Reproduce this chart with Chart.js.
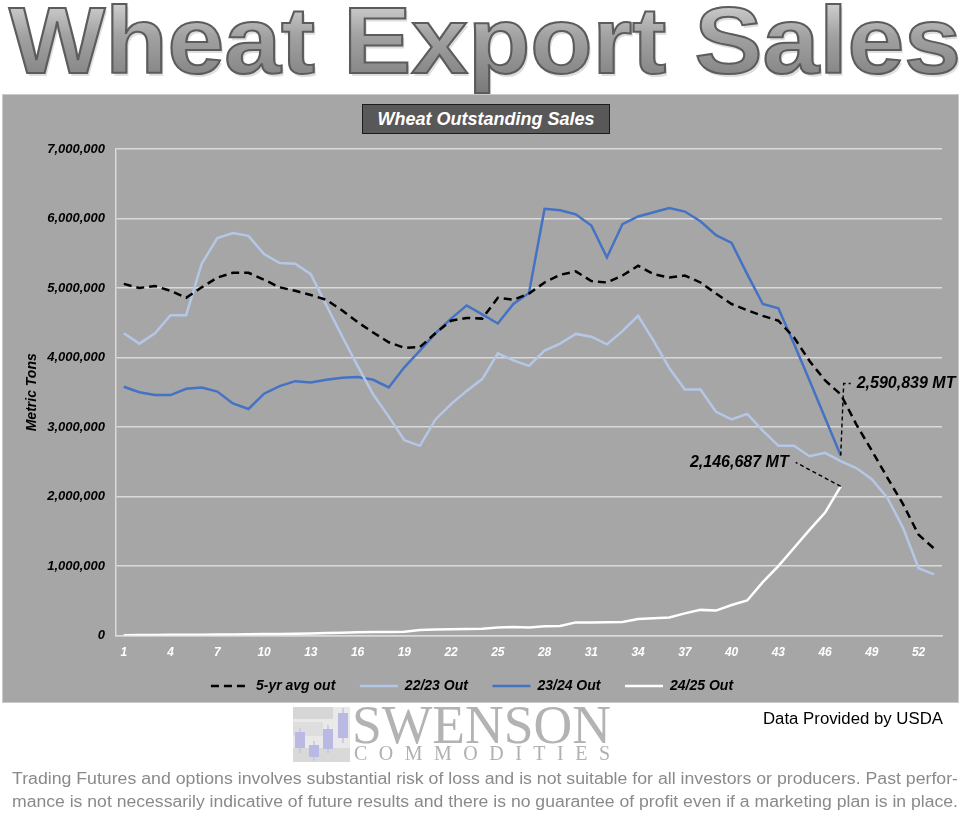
<!DOCTYPE html>
<html>
<head>
<meta charset="utf-8">
<title>Wheat Export Sales</title>
<script src="https://cdn.jsdelivr.net/npm/chart.js@4.4.1/dist/chart.umd.min.js"></script>
<style>
  body { margin: 0; width: 972px; height: 836px; background: #fff; position: relative; overflow: hidden; font-family: 'Liberation Sans', Arial, sans-serif; }
  #banner { position: absolute; left: 0; top: 0; }
  #panel { position: absolute; left: 2px; top: 94px; width: 957px; height: 609px; background: #a6a6a6; box-shadow: inset 0 0 0 1px #cacaca; }
  #panel canvas { position: absolute; left: 0; top: 0; }
  #chartTitle { position: absolute; left: 360px; top: 10px; width: 246px; height: 28px; background: #585858; border: 1px solid #1c1c1c;
    color: #fff; font: italic bold 18px 'Liberation Sans', Arial, sans-serif; line-height: 28px; text-align: center; }
  #footer { position: absolute; left: 0; top: 700px; }
</style>
</head>
<body>

<svg id="banner" width="972" height="94">
  <defs>
    <linearGradient id="titleFill" x1="0" y1="0" x2="0" y2="1">
      <stop offset="0" stop-color="#e4e4e4"/>
      <stop offset="0.45" stop-color="#a2a2a2"/>
      <stop offset="1" stop-color="#7a7a7a"/>
    </linearGradient>
  </defs>
  <text x="9" y="73" textLength="952" lengthAdjust="spacingAndGlyphs" font-family="Liberation Sans, Arial" font-weight="bold"
        font-size="94" fill="#c9c9c9" opacity="0.6" transform="translate(2,3)">Wheat Export Sales</text>
  <text x="9" y="73" textLength="952" lengthAdjust="spacingAndGlyphs" font-family="Liberation Sans, Arial" font-weight="bold"
        font-size="94" fill="url(#titleFill)" stroke="#5c5c5c" stroke-width="2">Wheat Export Sales</text>
</svg>

<div id="panel">
  <canvas id="salesChart" width="957" height="609"></canvas>
  <div id="chartTitle">Wheat Outstanding Sales</div>
</div>

<svg id="footer" width="972" height="136">
  <!-- logo mark -->
  <rect x="293" y="7" width="57" height="55" fill="#e9e9e9"/>
  <rect x="293" y="7" width="40" height="12" fill="#d6d6d6"/>
  <rect x="293" y="22" width="30" height="14" fill="#dedede"/>
  <rect x="293" y="48" width="57" height="14" fill="#d9d9d9"/>
  <g stroke="#c4c4de" stroke-width="1.5">
    <line x1="300" y1="28" x2="300" y2="53"/>
    <line x1="314" y1="41" x2="314" y2="61"/>
    <line x1="328" y1="25" x2="328" y2="53"/>
    <line x1="343" y1="8" x2="343" y2="43"/>
  </g>
  <g fill="#b9b9e3">
    <rect x="295" y="32" width="10" height="16"/>
    <rect x="309" y="45" width="10" height="12"/>
    <rect x="323" y="29" width="10" height="20"/>
    <rect x="338" y="13" width="10" height="25"/>
  </g>
  <text x="352" y="43" textLength="259" lengthAdjust="spacingAndGlyphs" font-family="Liberation Serif, Times New Roman, serif" font-size="54" fill="#b3b3b3">SWENSON</text>
  <text x="354" y="60" textLength="256" lengthAdjust="spacing" font-family="Liberation Serif, Times New Roman, serif" font-size="20" fill="#b0b0b0">COMMODITIES</text>
  <text x="943" y="24" text-anchor="end" textLength="180" lengthAdjust="spacingAndGlyphs" font-family="Liberation Sans, Arial" font-size="16" fill="#000">Data Provided by USDA</text>
  <text x="12" y="84" textLength="946" lengthAdjust="spacingAndGlyphs" font-family="Liberation Sans, Arial" font-size="16" fill="#8a8a8a">Trading Futures and options involves substantial risk of loss and is not suitable for all investors or producers. Past perfor-</text>
  <text x="12" y="107" textLength="946" lengthAdjust="spacingAndGlyphs" font-family="Liberation Sans, Arial" font-size="16" fill="#8a8a8a">mance is not necessarily indicative of future results and there is no guarantee of profit even if a marketing plan is in place.</text>
</svg>

<script>
// week numbers of the marketing year
const weeks = ['1','2','3','4','5','6','7','8','9','10','11','12','13','14','15','16','17','18','19','20',
  '21','22','23','24','25','26','27','28','29','30','31','32','33','34','35','36','37','38','39','40',
  '41','42','43','44','45','46','47','48','49','50','51','52','53'];

// outstanding sales, metric tons
const fiveYrAvg = [5060000, 5000000, 5030000, 4960000, 4860000, 5010000, 5150000, 5220000, 5220000, 5120000,
  5010000, 4960000, 4900000, 4830000, 4680000, 4510000, 4360000, 4220000, 4140000, 4150000,
  4350000, 4530000, 4570000, 4560000, 4860000, 4830000, 4920000, 5080000, 5190000, 5240000,
  5100000, 5080000, 5180000, 5320000, 5200000, 5150000, 5180000, 5080000, 4920000, 4770000,
  4680000, 4600000, 4530000, 4290000, 3950000, 3670000, 3470000, 3040000, 2660000, 2270000,
  1890000, 1450000, 1250000];
const sales2223 = [4350000, 4200000, 4350000, 4610000, 4610000, 5350000, 5720000, 5790000, 5750000, 5490000,
  5360000, 5350000, 5200000, 4750000, 4310000, 3880000, 3470000, 3150000, 2810000, 2730000,
  3110000, 3330000, 3520000, 3690000, 4060000, 3960000, 3880000, 4100000, 4200000, 4340000,
  4300000, 4190000, 4380000, 4600000, 4240000, 3850000, 3540000, 3540000, 3220000, 3110000,
  3190000, 2950000, 2730000, 2730000, 2580000, 2630000, 2510000, 2410000, 2250000, 1980000,
  1550000, 970000, 880000];
const sales2324 = [3580000, 3500000, 3460000, 3460000, 3550000, 3570000, 3510000, 3340000, 3260000, 3480000,
  3590000, 3660000, 3640000, 3680000, 3710000, 3720000, 3680000, 3570000, 3860000, 4100000,
  4350000, 4560000, 4750000, 4620000, 4490000, 4770000, 4930000, 6140000, 6120000, 6060000,
  5900000, 5440000, 5920000, 6030000, 6090000, 6150000, 6100000, 5960000, 5760000, 5650000,
  5200000, 4770000, 4710000, 4200000, 3670000, 3130000, 2590839];
const sales2425 = [5000, 8000, 10000, 12000, 13000, 14000, 15000, 17000, 19000, 22000,
  24000, 26000, 30000, 36000, 42000, 47000, 50000, 52000, 55000, 80000,
  88000, 92000, 94000, 97000, 115000, 125000, 118000, 135000, 137000, 190000,
  190000, 192000, 195000, 240000, 250000, 260000, 320000, 370000, 360000, 440000,
  505000, 770000, 1000000, 1260000, 1520000, 1770000, 2146687];

const yTicks = { min: 0, max: 7000000, step: 1000000 };

Chart.defaults.font.family = "'Liberation Sans', Arial, sans-serif";

// callouts for the latest week
const callouts = {
  id: 'callouts',
  afterDatasetsDraw(chart) {
    const { ctx, scales: { x, y } } = chart;
    const i = sales2425.length - 1;
    const px = x.getPixelForValue(i);
    const by = y.getPixelForValue(sales2324[i]);
    const wy = y.getPixelForValue(sales2425[i]);
    const fmt = v => v.toLocaleString('en-US') + ' MT';

    ctx.save();
    ctx.strokeStyle = '#000';
    ctx.lineWidth = 1.4;
    ctx.setLineDash([4, 3]);
    ctx.beginPath();
    ctx.moveTo(px, by);
    ctx.lineTo(px + 3, by - 72);
    ctx.lineTo(px + 10, by - 72);
    ctx.stroke();
    ctx.beginPath();
    ctx.moveTo(px, wy);
    ctx.lineTo(px - 45, wy - 24);
    ctx.stroke();
    ctx.setLineDash([]);
    ctx.fillStyle = '#000';
    ctx.font = "italic bold 16px 'Liberation Sans', Arial";
    ctx.textBaseline = 'middle';
    ctx.textAlign = 'left';
    ctx.fillText(fmt(sales2324[i]), px + 16, by - 72);
    ctx.textAlign = 'right';
    ctx.fillText(fmt(sales2425[i]), px - 52, wy - 24);
    ctx.restore();
  }
};

const gridColor = '#dadada';

new Chart(document.getElementById('salesChart'), {
  type: 'line',
  data: {
    labels: weeks,
    datasets: [
      { label: '5-yr avg out', data: fiveYrAvg, borderColor: '#000', borderDash: [8, 5], borderWidth: 2.5 },
      { label: '22/23 Out', data: sales2223, borderColor: '#b4c7e7', borderWidth: 2.5 },
      { label: '23/24 Out', data: sales2324, borderColor: '#4472c4', borderWidth: 2.5 },
      { label: '24/25 Out', data: sales2425, borderColor: '#ffffff', borderWidth: 2.5 }
    ]
  },
  options: {
    responsive: false,
    animation: false,
    layout: { padding: { left: 0, right: 17, top: 55, bottom: 0 } },
    elements: {
      point: { radius: 0, hoverRadius: 0 },
      line: { tension: 0, backgroundColor: 'transparent', fill: false }
    },
    scales: {
      x: {
        offset: true,
        grid: { display: false, drawTicks: false },
        border: { display: true, color: gridColor, width: 1.5 },
        ticks: {
          autoSkip: false,
          maxRotation: 0,
          padding: 10,
          color: '#fff',
          font: { size: 12, style: 'italic', weight: 'bold' },
          callback: (v, i) => (i % 3 === 0 ? weeks[i] : '')
        }
      },
      y: {
        min: yTicks.min,
        max: yTicks.max,
        afterFit: s => { s.width = 114; },
        grid: { color: gridColor, lineWidth: 1.5, drawTicks: false },
        border: { display: true, color: gridColor, width: 1.5 },
        ticks: {
          stepSize: yTicks.step,
          padding: 11,
          color: '#000',
          font: { size: 13, style: 'italic', weight: 'bold' },
          callback: v => v.toLocaleString('en-US')
        },
        title: {
          display: true,
          text: 'Metric Tons',
          color: '#000',
          padding: { top: 22 },
          font: { size: 14, style: 'italic', weight: 'bold' }
        }
      }
    },
    plugins: {
      legend: {
        position: 'bottom',
        labels: {
          usePointStyle: true,
          pointStyle: 'line',
          pointStyleWidth: 38,
          padding: 9,
          color: '#000',
          font: { size: 14, style: 'italic', weight: 'bold' },
          // trailing spaces widen the gap between entries (not after the last one)
          generateLabels: chart => {
            const items = Chart.defaults.plugins.legend.labels.generateLabels(chart);
            return items.map((item, k) => {
              const ds = chart.data.datasets[item.datasetIndex];
              const gap = k < items.length - 1 ? '    ' : '';
              return { ...item, text: item.text + gap, lineDash: ds.borderDash || [], lineWidth: ds.borderWidth, strokeStyle: ds.borderColor };
            });
          }
        }
      },
      tooltip: { enabled: false }
    }
  },
  plugins: [callouts]
});
</script>
</body>
</html>
